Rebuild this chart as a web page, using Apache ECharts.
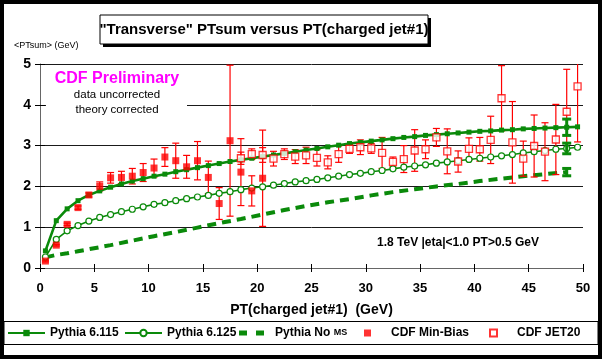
<!DOCTYPE html>
<html>
<head>
<meta charset="utf-8">
<script src="https://cdn.jsdelivr.net/npm/echarts@6/dist/echarts.min.js"></script>
<style>
  html, body { margin: 0; padding: 0; background: #fff; }
  #chart { width: 603px; height: 362px; }
</style>
</head>
<body>
<div id="chart"></div>
<script>
// Axis ranges (GeV)
const X_MIN = 0, X_MAX = 50, X_STEP = 5;
const Y_MIN = 0, Y_MAX = 5, Y_STEP = 1;

// Leading charged jet PT bin centres (GeV) used by the Pythia curves
const ptBins = [0.5, 1.5, 2.5, 3.5, 4.5, 5.5, 6.5, 7.5, 8.5, 9.5,
  10.5, 11.5, 12.5, 13.5, 14.5, 15.5, 16.5, 17.5, 18.5, 19.5,
  20.5, 21.5, 22.5, 23.5, 24.5, 25.5, 26.5, 27.5, 28.5, 29.5,
  30.5, 31.5, 32.5, 33.5, 34.5, 35.5, 36.5, 37.5, 38.5, 39.5,
  40.5, 41.5, 42.5, 43.5, 44.5, 45.5, 46.5, 47.5, 48.5, 49.5];

// <PTsum> in the transverse region (GeV)
const pythia6115 = [0.42, 1.16, 1.45, 1.65, 1.79, 1.89, 1.98, 2.06, 2.13, 2.19,
  2.25, 2.30, 2.36, 2.41, 2.46, 2.51, 2.56, 2.61, 2.65, 2.69,
  2.73, 2.77, 2.81, 2.85, 2.89, 2.93, 2.97, 3.01, 3.05, 3.08,
  3.11, 3.14, 3.17, 3.20, 3.22, 3.25, 3.27, 3.29, 3.31, 3.33,
  3.35, 3.36, 3.38, 3.39, 3.41, 3.42, 3.43, 3.44, 3.45, 3.46];

const pythia6125 = [0.27, 0.70, 0.91, 1.04, 1.15, 1.24, 1.31, 1.38, 1.44, 1.50,
  1.56, 1.60, 1.65, 1.70, 1.74, 1.78, 1.83, 1.87, 1.92, 1.96,
  1.99, 2.03, 2.07, 2.11, 2.14, 2.17, 2.21, 2.25, 2.29, 2.32,
  2.36, 2.39, 2.43, 2.47, 2.50, 2.53, 2.57, 2.60, 2.63, 2.66,
  2.69, 2.72, 2.75, 2.78, 2.82, 2.85, 2.88, 2.91, 2.93, 2.96];

const noMsPt = [0.5, 1.5, 2.5, 3.5, 4.5, 6.5, 8.5, 10.5, 12.5, 14.5, 16.5, 18.5, 20.5,
  22.5, 24.5, 26.5, 28.5, 30.5, 32.5, 34.5, 36.5, 38.5, 40.5, 42.5, 44.5, 46.5, 48.5];
const pythiaNoMS = [0.26, 0.32, 0.36, 0.41, 0.46, 0.56, 0.67, 0.78, 0.88, 0.99, 1.10, 1.20, 1.31,
  1.42, 1.52, 1.61, 1.69, 1.78, 1.86, 1.93, 2.00, 2.06, 2.13, 2.19, 2.25, 2.30, 2.35];

// Statistical errors quoted on the last Pythia point (PT = 48.5 GeV)
const theoryErrPt = 48.5;
const theoryErr6115 = 0.20;
const theoryErr6125 = 0.13;
const theoryErrNoMS = 0.09;

// CDF data, min-bias sample
const minBiasPt = [0.5, 1.5, 2.5, 3.5, 4.5, 5.5, 6.5, 7.5, 8.5, 9.5, 10.5,
  11.5, 12.5, 13.5, 14.5, 15.5, 16.5, 17.5, 18.5, 19.5, 20.5];
const minBias = [0.17, 0.56, 1.07, 1.48, 1.79, 2.00, 2.21, 2.22, 2.25, 2.34, 2.45,
  2.72, 2.63, 2.48, 2.63, 2.22, 1.58, 3.12, 2.35, 1.89, 2.20];
const minBiasErr = [0.02, 0.02, 0.03, 0.04, 0.05, 0.11, 0.13, 0.15, 0.19, 0.22, 0.22,
  0.23, 0.43, 0.28, 0.47, 0.40, 0.39, 1.85, 0.82, 0.37, 1.18];

// CDF data, JET20 sample
const jet20Pt = [18.5, 19.5, 20.5, 21.5, 22.5, 23.5, 24.5, 25.5, 26.5, 27.5,
  28.5, 29.5, 30.5, 31.5, 32.5, 33.5, 34.5, 35.5, 36.5, 37.5,
  38.5, 39.5, 40.5, 41.5, 42.5, 43.5, 44.5, 45.5, 46.5, 47.5, 48.5, 49.5];
const jet20 = [2.69, 2.79, 2.77, 2.68, 2.79, 2.73, 2.76, 2.70, 2.59, 2.79,
  2.92, 2.96, 2.93, 2.82, 2.60, 2.67, 2.88, 2.91, 3.20, 2.86,
  2.61, 2.92, 2.91, 3.14, 4.16, 3.08, 2.68, 2.99, 2.85, 3.15, 3.83, 4.45];
const jet20Err = [0.15, 0.13, 0.18, 0.18, 0.13, 0.17, 0.20, 0.20, 0.16, 0.20,
  0.11, 0.18, 0.12, 0.38, 0.12, 0.33, 0.51, 0.23, 0.22, 0.55,
  0.26, 0.27, 0.29, 0.58, 0.80, 1.00, 0.43, 0.76, 0.71, 0.86, 1.04, 1.36];

const FONT = "'Liberation Sans', Arial, sans-serif";
const GREEN = '#0a8a0a';
const RED = '#ff0000';

const pairs = (xs, ys) => xs.map((x, i) => [x, ys[i]]);

// rows of [x, low, high, drawTopCap]; bars are cut at the top of the axis
function barRows(xs, ys, es) {
  return xs.map((x, i) => {
    const hi = ys[i] + es[i];
    return [x, ys[i] - es[i], Math.min(hi, Y_MAX), hi <= Y_MAX ? 1 : 0];
  });
}

function errorBars(name, rows, color, width, capHalf, z) {
  return {
    type: 'custom',
    name: name,
    z: z,
    silent: true,
    encode: { x: 0, y: [1, 2] },
    data: rows,
    renderItem: function (params, api) {
      const x = api.value(0);
      const top = api.coord([x, api.value(2)]);
      const bot = api.coord([x, api.value(1)]);
      const st = { stroke: color, lineWidth: width };
      const kids = [
        { type: 'line', shape: { x1: top[0], y1: top[1], x2: bot[0], y2: bot[1] }, style: st },
        { type: 'line', shape: { x1: bot[0] - capHalf, y1: bot[1], x2: bot[0] + capHalf, y2: bot[1] }, style: st }
      ];
      if (api.value(3)) {
        kids.push({ type: 'line', shape: { x1: top[0] - capHalf, y1: top[1], x2: top[0] + capHalf, y2: top[1] }, style: st });
      }
      return { type: 'group', children: kids };
    }
  };
}

const squareIcon = 'path://M0,0h10v10h-10z';
// two short thick dashes for the dashed-curve legend entry
const dashIcon = 'path://M0,0h8v5h-8zM17,0h8v5h-8z';

function legendAt(left, name, extra) {
  return Object.assign({
    left: left,
    top: 327,
    itemWidth: 37,
    itemHeight: 8,
    itemGap: 0,
    padding: 0,
    selectedMode: false,
    data: [name],
    textStyle: { fontFamily: FONT, fontSize: 12, fontWeight: 'bold', color: '#000' }
  }, extra || {});
}

const chart = echarts.init(document.getElementById('chart'), null, { renderer: 'canvas' });

const axisX = {
  type: 'value', min: X_MIN, max: X_MAX, interval: X_STEP,
  position: 'bottom'
};
const axisY = {
  type: 'value', min: Y_MIN, max: Y_MAX, interval: Y_STEP,
  position: 'left'
};

chart.setOption({
  animation: false,
  backgroundColor: '#fff',
  grid: { left: 40, right: 20, top: 64, bottom: 94, containLabel: false },
  xAxis: [
    Object.assign({}, axisX, {
      axisLine: { show: true, lineStyle: { color: '#666', width: 1 } },
      axisTick: { show: true, inside: false, length: 4, lineStyle: { color: '#000' } },
      axisLabel: { margin: 14, fontFamily: FONT, fontSize: 13, fontWeight: 'bold', color: '#000' },
      splitLine: { show: false },
      name: 'PT(charged jet#1)  (GeV)',
      nameLocation: 'middle',
      nameGap: 35,
      nameTextStyle: { fontFamily: FONT, fontSize: 14, fontWeight: 'bold', color: '#000' }
    }),
    Object.assign({}, axisX, {
      axisLine: { show: false },
      axisTick: { show: true, inside: true, length: 4, lineStyle: { color: '#000' } },
      axisLabel: { show: false },
      splitLine: { show: false }
    })
  ],
  yAxis: [
    Object.assign({}, axisY, {
      axisLine: { show: true, lineStyle: { color: '#666', width: 1 } },
      axisTick: { show: true, inside: false, length: 5, lineStyle: { color: '#000' } },
      axisLabel: { margin: 9, fontFamily: FONT, fontSize: 14, fontWeight: 'bold', color: '#000' },
      splitLine: { show: true, lineStyle: { color: '#1a1a1a', width: 1 } }
    }),
    Object.assign({}, axisY, {
      axisLine: { show: false },
      axisTick: { show: true, inside: true, length: 5, lineStyle: { color: '#000' } },
      axisLabel: { show: false },
      splitLine: { show: false }
    })
  ],
  legend: [
    legendAt(7, 'Pythia 6.115'),
    legendAt(124, 'Pythia 6.125'),
    legendAt(239, 'Pythia No MS', {
      icon: dashIcon,
      itemHeight: 5,
      formatter: () => '{a|Pythia No }{b|MS}',
      textStyle: {
        fontFamily: FONT, fontSize: 12, fontWeight: 'bold', color: '#000',
        rich: {
          a: { fontFamily: FONT, fontSize: 12, fontWeight: 'bold', color: '#000' },
          b: { fontFamily: FONT, fontSize: 9, fontWeight: 'bold', color: '#000' }
        }
      }
    }),
    legendAt(364, 'CDF Min-Bias', { icon: squareIcon, itemHeight: 7 }),
    legendAt(489, 'CDF JET20', { icon: squareIcon, itemHeight: 7 })
  ],
  series: [
    {
      name: 'Pythia No MS', type: 'line', z: 2,
      data: pairs(noMsPt, pythiaNoMS),
      showSymbol: false, symbol: 'none',
      lineStyle: { color: GREEN, width: 4, type: [9, 6] },
      itemStyle: { color: GREEN }
    },
    errorBars('red bars min-bias', barRows(minBiasPt, minBias, minBiasErr), RED, 1.2, 3.5, 3),
    errorBars('red bars jet20', barRows(jet20Pt, jet20, jet20Err), RED, 1.2, 3.5, 3),
    {
      name: 'Pythia 6.125', type: 'line', z: 4,
      data: pairs(ptBins, pythia6125),
      symbol: 'circle', symbolSize: 6, showAllSymbol: true,
      lineStyle: { color: GREEN, width: 1.6 },
      itemStyle: { color: '#fff', borderColor: GREEN, borderWidth: 1.2 }
    },
    {
      name: 'Pythia 6.115', type: 'line', z: 5,
      data: pairs(ptBins, pythia6115),
      symbol: 'rect', symbolSize: 5, showAllSymbol: true,
      lineStyle: { color: GREEN, width: 2.6 },
      itemStyle: { color: GREEN }
    },
    errorBars('green bars', [
      [theoryErrPt, pythia6115[48] - theoryErr6115, pythia6115[48] + theoryErr6115, 1],
      [theoryErrPt, pythia6125[48] - theoryErr6125, pythia6125[48] + theoryErr6125, 1],
      [theoryErrPt, pythiaNoMS[26] - theoryErrNoMS, pythiaNoMS[26] + theoryErrNoMS, 1]
    ], GREEN, 3, 4.5, 6),
    {
      name: 'CDF Min-Bias', type: 'scatter', z: 7,
      data: pairs(minBiasPt, minBias),
      symbol: 'rect', symbolSize: 7,
      itemStyle: { color: RED }
    },
    {
      name: 'CDF JET20', type: 'scatter', z: 7,
      data: pairs(jet20Pt, jet20),
      symbol: 'rect', symbolSize: 7,
      itemStyle: { color: '#fff', borderColor: RED, borderWidth: 1.3 }
    }
  ],
  graphic: [
    // outer frame and legend box
    { type: 'rect', z: 100, silent: true,
      shape: { x: 2, y: 2, width: 598, height: 355 },
      style: { fill: null, stroke: '#000', lineWidth: 4 } },
    { type: 'rect', z: 100, silent: true,
      shape: { x: 4, y: 321.5, width: 594, height: 23 },
      style: { fill: null, stroke: '#000', lineWidth: 1 } },
    // title box with drop shadow
    { type: 'rect', z: 100, silent: true,
      shape: { x: 103, y: 18, width: 328, height: 29 },
      style: { fill: '#000' } },
    { type: 'rect', z: 101, silent: true,
      shape: { x: 100, y: 15, width: 328, height: 29 },
      style: { fill: '#fff', stroke: '#000', lineWidth: 1 } },
    { type: 'text', z: 102, silent: true,
      x: 264, y: 30,
      style: { text: '"Transverse" PTsum versus PT(charged jet#1)', fill: '#000',
        font: 'bold 15px ' + FONT, align: 'center', verticalAlign: 'middle' } },
    // y-axis caption
    { type: 'text', z: 100, silent: true,
      x: 14, y: 46,
      style: { text: '<PTsum> (GeV)', fill: '#000', font: '9px ' + FONT,
        align: 'left', verticalAlign: 'middle' } },
    // annotation block (white backing hides the grid line behind it)
    { type: 'rect', z: 100, silent: true,
      shape: { x: 46, y: 68, width: 141, height: 50 },
      style: { fill: '#fff' } },
    { type: 'text', z: 101, silent: true,
      x: 117, y: 79,
      style: { text: 'CDF Preliminary', fill: '#ff00ff', font: 'bold 16px ' + FONT,
        align: 'center', verticalAlign: 'middle' } },
    { type: 'text', z: 101, silent: true,
      x: 117, y: 95,
      style: { text: 'data uncorrected', fill: '#000', font: '11.5px ' + FONT,
        align: 'center', verticalAlign: 'middle' } },
    { type: 'text', z: 101, silent: true,
      x: 117, y: 110,
      style: { text: 'theory corrected', fill: '#000', font: '11.5px ' + FONT,
        align: 'center', verticalAlign: 'middle' } },
    { type: 'text', z: 101, silent: true,
      x: 377, y: 243,
      style: { text: '1.8 TeV |eta|<1.0 PT>0.5 GeV', fill: '#000', font: 'bold 12px ' + FONT,
        align: 'left', verticalAlign: 'middle' } }
  ]
});
</script>
</body>
</html>
